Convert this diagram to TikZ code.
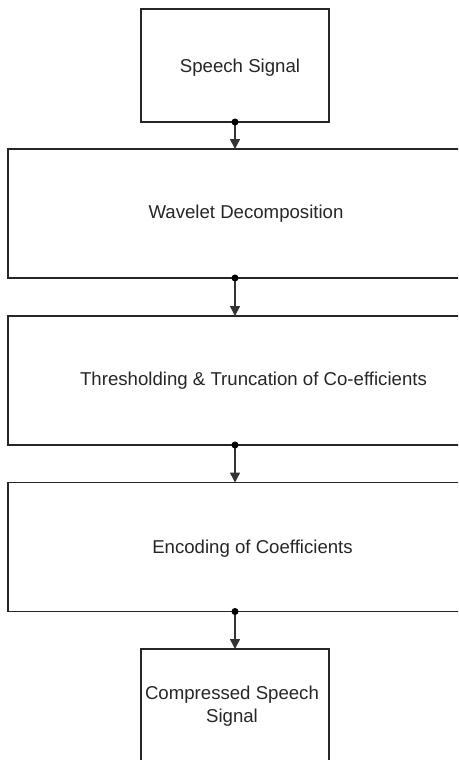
\documentclass[tikz,border=0pt]{standalone}
\usepackage{fontspec}
\setmainfont{Liberation Sans}
\usepackage{tikz}
\usetikzlibrary{arrows.meta}
\tikzset{
  signalnode/.style={rectangle,draw=black!85,line width=0.8pt,
    minimum width=3.76cm,minimum height=2.26cm,inner sep=0pt,outer sep=0pt},
  stagenode/.style={rectangle,draw=black!85,line width=0.8pt,
    minimum width=9.08cm,minimum height=2.58cm,inner sep=0pt,outer sep=0pt},
  stagetext/.style={anchor=base,inner sep=0pt,text=black!85,
    font=\fontsize{10.6}{12.8}\selectfont},
  flowedge/.style={line width=0.8pt,black!80,-{Triangle[length=0.2cm,width=0.2cm]}},
  joinnode/.style={circle,fill=black,inner sep=0pt,minimum size=0.14cm}
}

\begin{document}
\begin{tikzpicture}[x=0.02cm,y=-0.02cm]
  \useasboundingbox (0,0) rectangle (458,760);
  \clip (0,0) rectangle (458,760);

  % boxes, top to bottom
  \node[signalnode] (speech) at (235,65.5) {};
  \node[stagenode] (wavelet) at (235,213.5) {};
  \node[stagenode] (thresh) at (235,380.5) {};
  \node[stagenode] (encode) at (235,547) {};
  \node[signalnode] (compressed) at (235,705.5) {};

  % texts
  \node[stagetext] (speechtext) at (240,72.7) {Speech Signal};
  \node[stagetext] (wavelettext) at (246,218) {Wavelet Decomposition};
  \node[stagetext] (threshtext) at (253.5,385) {Thresholding \& Truncation of Co-efficients};
  \node[stagetext] (encodetext) at (252.5,553) {Encoding of Coefficients};
  \node[stagetext,anchor=center,align=center] (compressedtext) at (232,706)
    {Compressed Speech\\Signal};

  % connectors
  \draw[flowedge] (speech.south) -- (wavelet.north);
  \draw[flowedge] (wavelet.south) -- (thresh.north);
  \draw[flowedge] (thresh.south) -- (encode.north);
  \draw[flowedge] (encode.south) -- (compressed.north);
  \foreach \n in {speech,wavelet,thresh,encode}
    \node[joinnode] at (\n.south) {};
\end{tikzpicture}
\end{document}
